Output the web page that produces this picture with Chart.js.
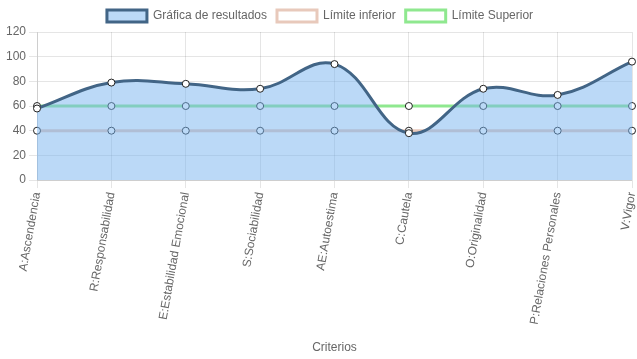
<!DOCTYPE html>
<html>
<head>
<meta charset="utf-8">
<script src="https://cdn.jsdelivr.net/npm/chart.js@4/dist/chart.umd.min.js"></script>
<style>
  html, body { margin: 0; padding: 0; background: #fff; }
  #wrap { width: 637px; height: 359px; }
</style>
</head>
<body>
<div id="wrap"><canvas id="chart"></canvas></div>
<script>
const criterios = [
  'A:Ascendencia', 'R:Responsabilidad', 'E:Estabilidad Emocional', 'S:Sociabilidad',
  'AE:Autoestima', 'C:Cautela', 'O:Originalidad', 'P:Relaciones Personales', 'V:Vigor'
]
const resultados = [58, 79, 78, 74, 94, 38, 74, 69, 96]
const limiteInferior = [40, 40, 40, 40, 40, 40, 40, 40, 40]
const limiteSuperior = [60, 60, 60, 60, 60, 60, 60, 60, 60]

Chart.defaults.font.family = 'Arial, "Liberation Sans", sans-serif'
Chart.defaults.font.size = 12
Chart.defaults.color = '#666'

const setup = {
  type: 'line',
  data: {
    labels: criterios,
    datasets: [
      {
        label: 'Gráfica de resultados',
        data: resultados,
        borderColor: '#426586',
        backgroundColor: 'rgba(120,180,240,0.5)',
        borderWidth: 3,
        fill: true,
        tension: 0.4,
        pointRadius: 3.5,
        pointBorderWidth: 1,
        pointBackgroundColor: '#fff',
        pointBorderColor: '#222'
      },
      {
        label: 'Límite inferior',
        data: limiteInferior,
        borderColor: '#e8c9bb',
        backgroundColor: '#fff',
        borderWidth: 3,
        fill: false,
        tension: 0,
        pointRadius: 3.5,
        pointBorderWidth: 1,
        pointBackgroundColor: '#fff',
        pointBorderColor: '#222'
      },
      {
        label: 'Límite Superior',
        data: limiteSuperior,
        borderColor: '#8fe88f',
        backgroundColor: '#fff',
        borderWidth: 3,
        fill: false,
        tension: 0,
        pointRadius: 3.5,
        pointBorderWidth: 1,
        pointBackgroundColor: '#fff',
        pointBorderColor: '#222'
      }
    ]
  },
  options: {
    responsive: true,
    maintainAspectRatio: false,
    animation: false,
    layout: { padding: { left: 3, right: 0 } },
    plugins: {
      legend: { display: true, position: 'top', labels: { boxWidth: 40, boxHeight: 12 } }
    },
    scales: {
      x: {
        ticks: { minRotation: 80, maxRotation: 80 },
        title: { display: true, text: 'Criterios', padding: { top: 12, bottom: 4 } },
        grid: { color: 'rgba(0,0,0,0.1)' },
        afterFit: (scale) => { scale.paddingRight = 4 }
      },
      y: {
        min: 0, max: 120,
        ticks: { stepSize: 20 },
        grid: { color: 'rgba(0,0,0,0.1)' }
      }
    }
  }
}

new Chart(document.getElementById('chart'), setup)
</script>
</body>
</html>
